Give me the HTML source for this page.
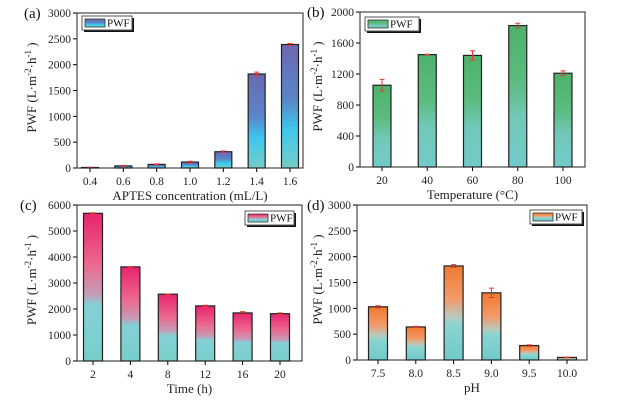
<!DOCTYPE html>
<html><head><meta charset="utf-8"><style>
body{margin:0;background:#fff;}
svg{display:block;font-family:"Liberation Serif","Times New Roman",serif;}
text{font-family:"Liberation Serif","Times New Roman",serif;}
</style></head><body>
<svg id="fig" width="630" height="401" viewBox="0 0 630 401" xmlns="http://www.w3.org/2000/svg">
<defs>
<linearGradient id="ga" x1="0" y1="0" x2="0" y2="1"><stop offset="0" stop-color="#6b68b0"/><stop offset="0.45" stop-color="#5a86c8"/><stop offset="0.68" stop-color="#3ec6ee"/><stop offset="1" stop-color="#74cfc6"/></linearGradient>
<linearGradient id="gb" x1="0" y1="0" x2="0" y2="1"><stop offset="0" stop-color="#4bb36a"/><stop offset="0.4" stop-color="#5cbb7f"/><stop offset="0.65" stop-color="#72c8b8"/><stop offset="1" stop-color="#72cbc9"/></linearGradient>
<linearGradient id="gc" x1="0" y1="0" x2="0" y2="1"><stop offset="0" stop-color="#e8236e"/><stop offset="0.35" stop-color="#ec6a8e"/><stop offset="0.55" stop-color="#c39cb8"/><stop offset="0.62" stop-color="#85d0d6"/><stop offset="1" stop-color="#77cfc9"/></linearGradient>
<linearGradient id="gd" x1="0" y1="0" x2="0" y2="1"><stop offset="0" stop-color="#f07a2e"/><stop offset="0.35" stop-color="#f39a6a"/><stop offset="0.55" stop-color="#b4ccc0"/><stop offset="0.62" stop-color="#8ad4d0"/><stop offset="1" stop-color="#6fcaca"/></linearGradient>
</defs>
</svg>
<script>
const catsA=["0.4","0.6","0.8","1.0","1.2","1.4","1.6"];
const valsA=[10,40,70,115,315,1820,2390];
const errA=[5,10,10,15,15,35,20];
const ticksA=[0,500,1000,1500,2000,2500,3000];
const catsB=["20","40","60","80","100"];
const valsB=[1055,1450,1440,1825,1210];
const errB=[75,5,60,30,30];
const ticksB=[0,400,800,1200,1600,2000];
const catsC=["2","4","8","12","16","20"];
const valsC=[5680,3620,2570,2120,1850,1820];
const errC=[20,10,10,25,50,30];
const ticksC=[0,1000,2000,3000,4000,5000,6000];
const catsD=["7.5","8.0","8.5","9.0","9.5","10.0"];
const valsD=[1030,640,1820,1300,280,50];
const errD=[20,10,25,90,15,5];
const ticksD=[0,500,1000,1500,2000,2500,3000];

const NS="http://www.w3.org/2000/svg";
const FF='"Liberation Serif","Times New Roman",serif';
const svg=document.getElementById('fig');
function mk(tag,attrs,parent,text){const e=document.createElementNS(NS,tag);for(const k in attrs)e.setAttribute(k,attrs[k]);if(tag==='text')e.setAttribute('font-family',FF);if(text!==undefined)e.textContent=text;(parent||svg).appendChild(e);return e;}

function panel(p){
  const g=mk('g',{});
  
  
  const ymax=p.ticks[p.ticks.length-1];
  const ys=v=>p.b-(v/ymax)*(p.b-p.t);
  const n=p.cats.length;
  const xs=i=>p.x0+i*(p.x1-p.x0)/(n-1);
  p.ticks.forEach(v=>{
    const y=ys(v);
    const tl=mk('line',{x1:p.l-4,x2:p.l,y1:y,y2:y,stroke:'#000','stroke-width':1},g);
    
    
    const tx=mk('text',{x:p.l-6,y:y+4,'font-size':11.5,'text-anchor':'end',fill:'#222'},g,String(v));
    
    
  });
  p.cats.forEach((c,i)=>{
    const x=xs(i);
    const tl=mk('line',{x1:x,x2:x,y1:p.b,y2:p.b+4,stroke:'#000','stroke-width':1},g);
    
    
    const tx=mk('text',{x:x,y:p.b+17,'font-size':11.5,'text-anchor':'middle',fill:'#222'},g,c);
    
    
    const v=p.vals[i], y=ys(v);
    const r=mk('rect',{x:x-p.bw/2,y:y,width:p.bw,height:p.b-y,fill:'url(#'+p.grad+')',stroke:'#222','stroke-width':1.2},g);
    
    
    const e=p.err[i];
    const eb=mk('path',{d:`M${x},${ys(v+e)}V${ys(v-e)}M${x-2.5},${ys(v+e)}H${x+2.5}M${x-2.5},${ys(v-e)}H${x+2.5}`,stroke:'#e8362f','stroke-width':1,fill:'none'},g);
    
    
  });
  const fr=mk('rect',{x:p.l,y:p.t,width:p.r-p.l,height:p.b-p.t,fill:'none',stroke:'#222','stroke-width':1},g);
  
  
  const lab=mk('text',{x:p.labx,y:p.t+5,'font-size':15,fill:'#111'},g,'('+p.id+')');
  
  
  const xt=mk('text',{x:(p.l+p.r)/2,y:p.b+32,'font-size':13,'text-anchor':'middle',fill:'#222'},g,p.xtitle);
  
  
  const cy=(p.t+p.b)/2-3;
  const yt=mk('text',{x:0,y:0,'font-size':13,'text-anchor':'middle',fill:'#222',transform:`translate(${p.ytx},${cy}) rotate(-90)`},g);
  
  
  yt.innerHTML='PWF (L·m<tspan dy="-5" font-size="9">-2</tspan><tspan dy="5">·h</tspan><tspan dy="-5" font-size="9">-1</tspan><tspan dy="5"> )</tspan>';
  const lg=mk('g',{},g);
  
  
  const L=p.leg;
  mk('rect',{x:L[0]+2,y:L[1]+2,width:L[2],height:L[3],fill:'#111'},lg);
  mk('rect',{x:L[0],y:L[1],width:L[2],height:L[3],fill:'#fff',stroke:'#555','stroke-width':1},lg);
  const sw=mk('rect',{x:L[0]+3,y:L[1]+3,width:20,height:L[3]-6,fill:'url(#'+p.grad+')',stroke:'#333','stroke-width':0.8},lg);
  
  
  const lt=mk('text',{x:L[0]+25,y:L[1]+L[3]-3.5,'font-size':11,fill:'#111'},lg,'PWF');
  
  
}
panel({id:'a',cats:catsA,vals:valsA,err:errA,ticks:ticksA,l:77,r:303,t:13,b:168,x0:90,x1:290,bw:17,grad:'ga',labx:24,ytx:36,xtitle:'APTES concentration (mL/L)',leg:[82,16,50,14]});
panel({id:'b',cats:catsB,vals:valsB,err:errB,ticks:ticksB,l:360,r:585,t:12,b:167,x0:382,x1:563,bw:18,grad:'gb',labx:307,ytx:322,xtitle:'Temperature (°C)',leg:[365,17,54,14]});
panel({id:'c',cats:catsC,vals:valsC,err:errC,ticks:ticksC,l:77,r:302,t:205,b:361,x0:93,x1:280,bw:19,grad:'gc',labx:20,ytx:36,xtitle:'Time (h)',leg:[245,211,49,14]});
panel({id:'d',cats:catsD,vals:valsD,err:errD,ticks:ticksD,l:357,r:587,t:205,b:360,x0:378,x1:567,bw:19,grad:'gd',labx:307,ytx:322,xtitle:'pH',leg:[530,210,52,14]});
</script>
</body></html>
